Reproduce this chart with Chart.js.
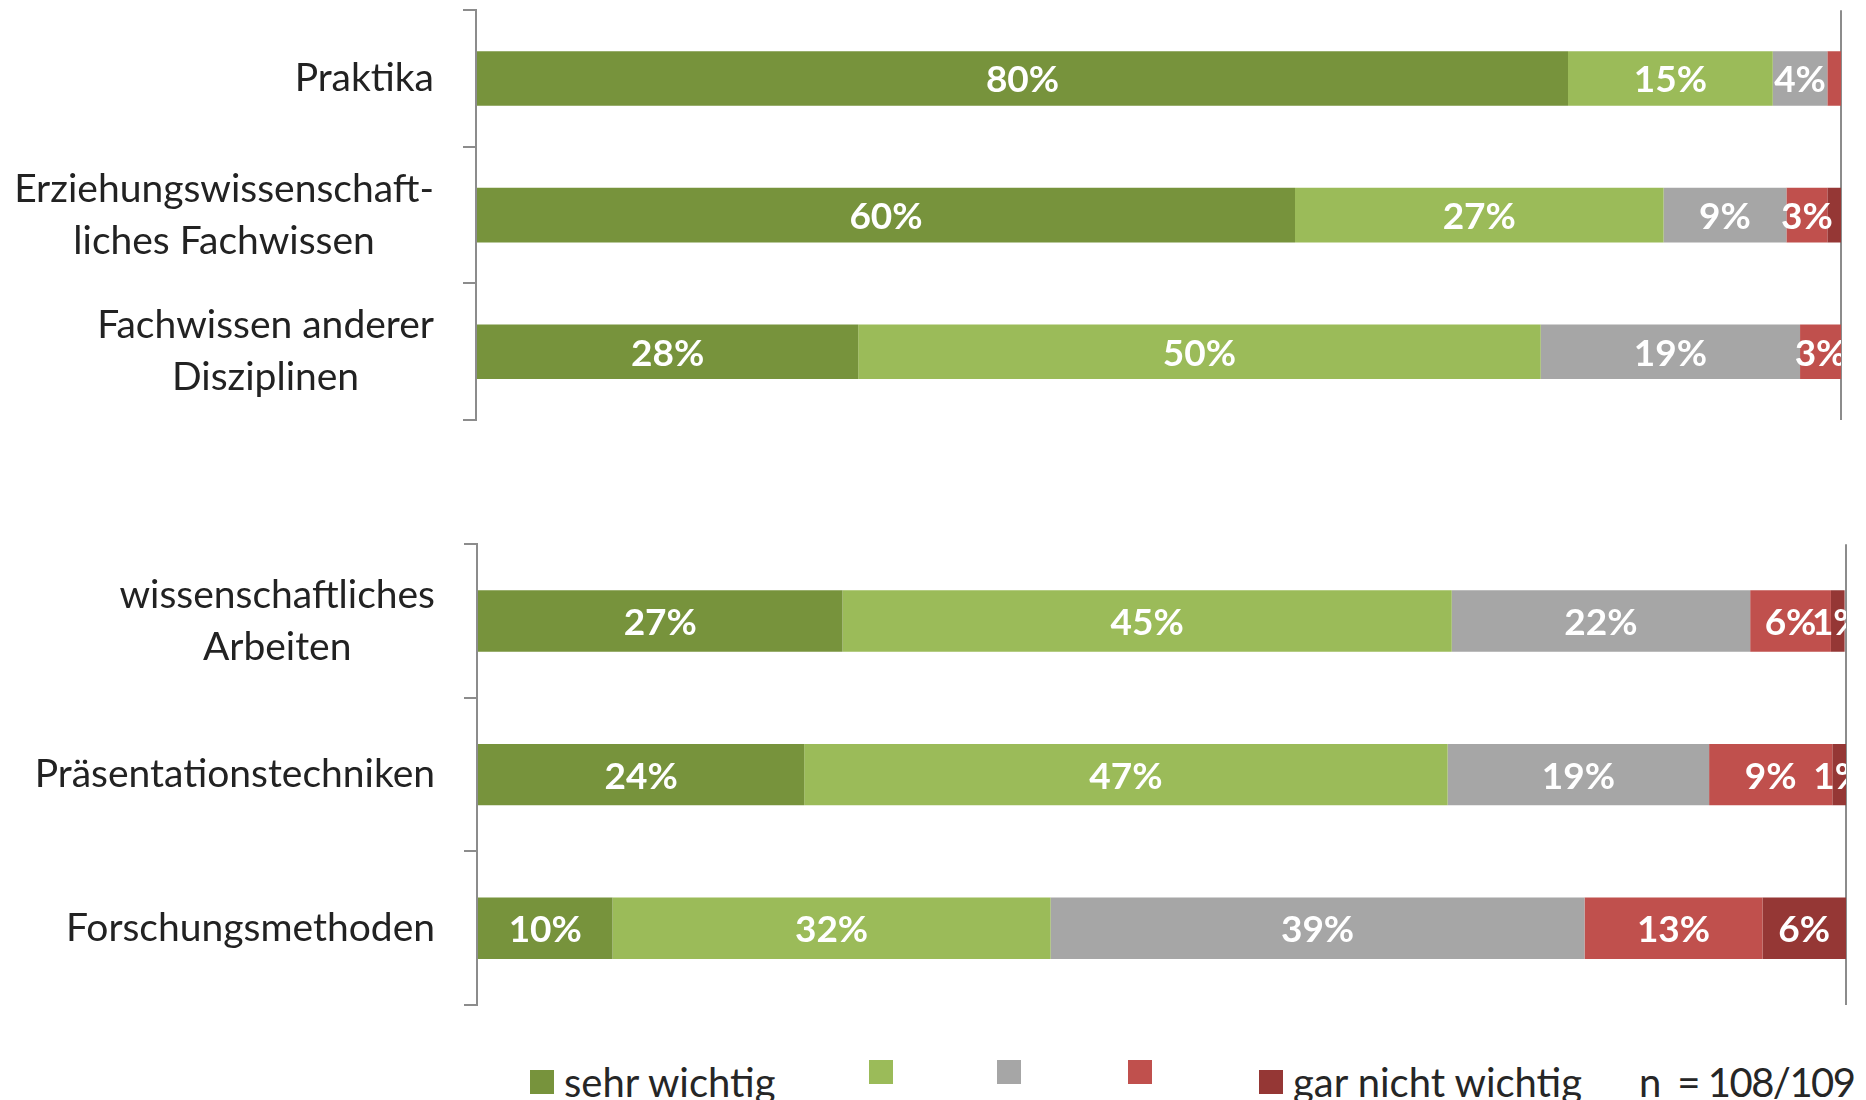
<!DOCTYPE html>
<html>
<head>
<meta charset="utf-8">
<script src="https://cdn.jsdelivr.net/npm/chart.js@4.4.1/dist/chart.umd.min.js"></script>
<style>
  body { margin: 0; background: #fff; width: 1866px; height: 1100px; overflow: hidden; position: relative; font-family: Lato, sans-serif; }
  canvas { position: absolute; left: 0; }
  .item { position: absolute; top: 1060px; display: flex; align-items: center; font-size: 40px; line-height: 44px; color: #262626; white-space: pre; }
  .note { letter-spacing: -1.5px; }
  .sw { width: 24px; height: 24px; margin-right: 10px; }
</style>
</head>
<body>
<canvas id="topChart" width="1866" height="440" style="top:0"></canvas>
<canvas id="bottomChart" width="1866" height="490" style="top:534px"></canvas>
<div id="legend"></div>

<script>
// categories
const topCategories = ['Praktika', ['Erziehungswissenschaft-', 'liches Fachwissen'], ['Fachwissen anderer', 'Disziplinen']];
const bottomCategories = [['wissenschaftliches', 'Arbeiten'], 'Präsentationstechniken', 'Forschungsmethoden'];

// answer levels
const seriesNames = ['sehr wichtig', '', '', '', 'gar nicht wichtig'];
const seriesColors = ['#77933C', '#9BBB59', '#A6A6A6', '#C0504D', '#953735'];

// percentages, top block
const topLevel1 = [80, 60, 28];
const topLevel2 = [15, 27, 50];
const topLevel3 = [4, 9, 19];
const topLevel4 = [1, 3, 3];
const topLevel5 = [0, 1, 0];

// percentages, bottom block
const bottomLevel1 = [26.7, 23.9, 9.9];
const bottomLevel2 = [44.5, 47.0, 32.0];
const bottomLevel3 = [21.8, 19.1, 39.0];
const bottomLevel4 = [5.9, 9.0, 13.0];
const bottomLevel5 = [1.0, 1.0, 6.1];

const noteText = 'n  = 108/109';

// white % labels in the middle of each segment
const segmentLabels = {
  id: 'segmentLabels',
  afterDatasetsDraw(chart, args, opts) {
    const { ctx, chartArea } = chart;
    ctx.save();
    ctx.beginPath();
    ctx.rect(chartArea.left, chartArea.top, chartArea.right - chartArea.left, chartArea.bottom - chartArea.top);
    ctx.clip();
    ctx.font = 'bold 37px Lato';
    ctx.fillStyle = '#fff';
    ctx.textAlign = 'center';
    ctx.textBaseline = 'middle';
    chart.data.datasets.forEach((ds, di) => {
      chart.getDatasetMeta(di).data.forEach((bar, i) => {
        const v = ds.data[i];
        if (v < opts.min) return;
        ctx.fillText(Math.round(v) + '%', (bar.x + bar.base) / 2, bar.y + 2);
      });
    });
    ctx.restore();
  }
};

// category names, lines centred on each other, block right aligned
const categoryLabels = {
  id: 'categoryLabels',
  afterDraw(chart, args, opts) {
    const { ctx } = chart;
    const y = chart.scales.y;
    ctx.save();
    ctx.font = '39px Lato';
    ctx.fillStyle = '#222';
    ctx.textAlign = 'center';
    ctx.textBaseline = 'middle';
    chart.data.labels.forEach((label, i) => {
      const lines = [].concat(label);
      const w = Math.max(...lines.map(l => ctx.measureText(l).width));
      const cx = opts.right - w / 2;
      const cy = y.getPixelForValue(i);
      lines.forEach((line, j) => {
        ctx.fillText(line, cx, cy + (j - (lines.length - 1) / 2) * 52);
      });
    });
    ctx.restore();
  }
};

function makeChart(id, labels, series, cfg) {
  return new Chart(document.getElementById(id), {
    type: 'bar',
    data: {
      labels: labels,
      datasets: series.map((data, k) => ({
        label: seriesNames[k],
        data: data,
        backgroundColor: seriesColors[k],
        borderWidth: 0,
        categoryPercentage: 1,
        barPercentage: 0.4
      }))
    },
    options: {
      indexAxis: 'y',
      responsive: false,
      animation: false,
      layout: { padding: cfg.padding },
      plugins: {
        legend: { display: false },
        tooltip: { enabled: false },
        segmentLabels: { min: cfg.labelMin },
        categoryLabels: { right: cfg.labelRight }
      },
      scales: {
        x: {
          stacked: true, min: 0, max: 100,
          ticks: { display: false, stepSize: 100 },
          border: { display: false },
          grid: { drawTicks: false, lineWidth: 2, color: c => c.tick && c.tick.value === 100 ? '#8c8c8c' : 'transparent' },
          afterFit: s => { s.height = 0; }
        },
        y: {
          stacked: true,
          ticks: { callback: () => '' },
          border: { color: '#8c8c8c', width: 2 },
          grid: { drawOnChartArea: false, tickLength: 13, color: '#8c8c8c', lineWidth: 2 },
          afterFit: s => { s.width = cfg.axisX; }
        }
      }
    },
    plugins: [segmentLabels, categoryLabels]
  });
}

makeChart('topChart', topCategories,
  [topLevel1, topLevel2, topLevel3, topLevel4, topLevel5],
  { padding: { top: 10, right: 25, bottom: 20, left: 0 }, axisX: 476, labelRight: 434, labelMin: 2 });

makeChart('bottomChart', bottomCategories,
  [bottomLevel1, bottomLevel2, bottomLevel3, bottomLevel4, bottomLevel5],
  { padding: { top: 10, right: 20, bottom: 19, left: 0 }, axisX: 477, labelRight: 435, labelMin: 0.5 });

// legend
const legendLeft = [530, 869, 997, 1128, 1259];
const legend = document.getElementById('legend');
seriesNames.forEach((name, k) => {
  const item = document.createElement('div');
  item.className = 'item';
  item.style.left = legendLeft[k] + 'px';
  item.innerHTML = '<span class="sw" style="background:' + seriesColors[k] + '"></span><span>' + name + '</span>';
  legend.appendChild(item);
});
const note = document.createElement('div');
note.className = 'item note';
note.style.left = '1639px';
note.textContent = noteText;
legend.appendChild(note);
</script>
</body>
</html>
